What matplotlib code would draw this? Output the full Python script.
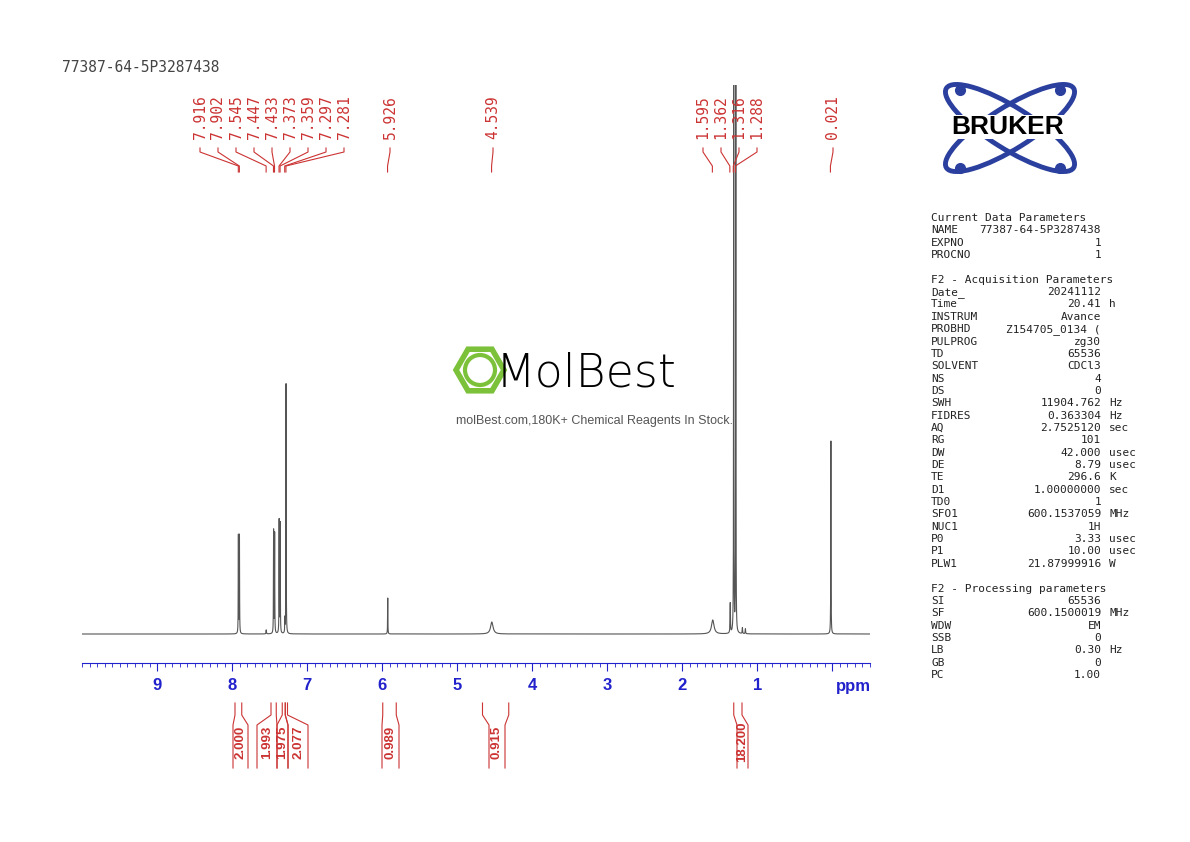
import numpy as np
import matplotlib
matplotlib.use("Agg")
import matplotlib.pyplot as plt
from matplotlib.patches import Ellipse, RegularPolygon, Circle

title = "77387-64-5P3287438"
peak_ppm = [7.916, 7.902, 7.545, 7.447, 7.433, 7.373, 7.359, 7.297, 7.281, 5.926, 4.539, 1.595, 1.362, 1.316, 1.288, 1.20, 1.16, 0.021]
peak_h = [98, 98, 4, 103, 100, 113, 110, 14, 250, 36, 12, 14, 30, 549, 549, 6, 5, 193]
peak_w = [0.002, 0.002, 0.003, 0.002, 0.002, 0.002, 0.002, 0.002, 0.002, 0.002, 0.02, 0.02, 0.003, 0.002, 0.002, 0.003, 0.003, 0.002]
label_vals = ["7.916", "7.902", "7.545", "7.447", "7.433", "7.373", "7.359", "7.297", "7.281", "5.926", "4.539", "1.595", "1.362", "1.316", "1.288", "0.021"]
label_ppm = [7.916, 7.902, 7.545, 7.447, 7.433, 7.373, 7.359, 7.297, 7.281, 5.926, 4.539, 1.595, 1.362, 1.316, 1.288, 0.021]
integ_vals = ["2.000", "1.993", "1.975", "2.077", "0.989", "0.915", "18.200"]
integ_regions = [(7.96, 7.87), (7.48, 7.41), (7.33, 7.29), (7.29, 7.26), (5.99, 5.81), (4.66, 4.31), (1.31, 1.20)]
params = [
    ("Current Data Parameters", "", ""), ("NAME", "77387-64-5P3287438", ""), ("EXPNO", "1", ""), ("PROCNO", "1", ""), None,
    ("F2 - Acquisition Parameters", "", ""), ("Date_", "20241112", ""), ("Time", "20.41", "h"), ("INSTRUM", "Avance", ""),
    ("PROBHD", "Z154705_0134 (", ""), ("PULPROG", "zg30", ""), ("TD", "65536", ""), ("SOLVENT", "CDCl3", ""),
    ("NS", "4", ""), ("DS", "0", ""), ("SWH", "11904.762", "Hz"), ("FIDRES", "0.363304", "Hz"), ("AQ", "2.7525120", "sec"),
    ("RG", "101", ""), ("DW", "42.000", "usec"), ("DE", "8.79", "usec"), ("TE", "296.6", "K"), ("D1", "1.00000000", "sec"),
    ("TD0", "1", ""), ("SFO1", "600.1537059", "MHz"), ("NUC1", "1H", ""), ("P0", "3.33", "usec"), ("P1", "10.00", "usec"),
    ("PLW1", "21.87999916", "W"), None,
    ("F2 - Processing parameters", "", ""), ("SI", "65536", ""), ("SF", "600.1500019", "MHz"), ("WDW", "EM", ""),
    ("SSB", "0", ""), ("LB", "0.30", "Hz"), ("GB", "0", ""), ("PC", "1.00", ""),
]

# layout (pixels)
label_x = [200, 218, 236, 254, 272, 290, 308, 326, 344, 390, 493, 703, 721, 739, 757, 833]
integ_bottom = [(233, 248), (257, 277), (277, 288), (288, 308), (382, 399), (489, 505), (737, 748)]

W, H = 1190, 842
fig = plt.figure(figsize=(W/100, H/100), dpi=100)
def fx(x): return x / W
def fy(y): return 1 - y / H

ax = fig.add_axes([fx(82), fy(663), (870-82)/W, (663-85)/H])
x = np.linspace(-0.5, 10.0, 200000)
x = np.sort(np.concatenate([x, np.array(peak_ppm)]))
y = np.zeros_like(x)
for p, h, w in zip(peak_ppm, peak_h, peak_w):
    y += h / (1 + ((x - p) / w) ** 2)
ax.plot(x, y, color="#555555", lw=0.8)
ax.set_xlim(10.0, -0.5)
ax.set_ylim(-29, 549)
for s in ["top", "left", "right"]:
    ax.spines[s].set_visible(False)
ax.spines["bottom"].set_color("#2222cc")
ax.set_yticks([])
ax.set_xticks(np.arange(0, 10))
ax.set_xticklabels([""] + [str(i) for i in range(1, 10)])
ax.set_xticks(np.arange(-0.5, 10.01, 0.1), minor=True)
ax.tick_params(axis="x", which="major", colors="#2222cc", direction="out", length=6, labelsize=12, pad=5)
ax.tick_params(axis="x", which="minor", colors="#2222cc", direction="out", length=3)
for t in ax.get_xticklabels():
    t.set_fontweight("bold"); t.set_family("Liberation Sans")
fig.text(fx(853), fy(686), "ppm", color="#2222cc", fontsize=12, fontweight="bold", family="Liberation Sans", ha="center", va="center")

def ppm2px(p): return 157 + (9 - p) * 75

red = "#cc3333"
for lab, lx, p in zip(label_vals, label_x, label_ppm):
    tx = ppm2px(p)
    fig.text(fx(lx), fy(95), lab, rotation=90, color=red, fontsize=10.5, family="DejaVu Sans Mono", ha="center", va="top")
    fig.add_artist(plt.Line2D([fx(lx), fx(lx), fx(tx), fx(tx)], [fy(148), fy(152), fy(166), fy(172)], color=red, lw=0.8))

for val, (a, b), (ba, bb) in zip(integ_vals, integ_regions, integ_bottom):
    xa, xb = ppm2px(a), ppm2px(b)
    for e, i in [(xa, ba), (xb, bb)]:
        fig.add_artist(plt.Line2D([fx(e), fx(e), fx(i), fx(i)], [fy(703), fy(715), fy(725), fy(768)], color=red, lw=0.8))
    fig.text(fx((ba + bb) / 2), fy(742), val, rotation=90, color=red, fontsize=9.5, fontweight="bold", family="Liberation Sans", ha="center", va="center")

fig.text(fx(62), fy(68), title, fontsize=10.5, family="DejaVu Sans Mono", color="#444444", va="center")

y0 = 218
for line in params:
    if line is not None:
        n, v, u = line
        fig.text(fx(931), fy(y0), n, fontsize=8, family="DejaVu Sans Mono", color="#222222", va="center")
        if v:
            fig.text(fx(1101), fy(y0), v, fontsize=8, family="DejaVu Sans Mono", color="#222222", va="center", ha="right")
        if u:
            fig.text(fx(1109), fy(y0), u, fontsize=8, family="DejaVu Sans Mono", color="#222222", va="center")
    y0 += 12.35

# Bruker logo
lax = fig.add_axes([fx(920), fy(180), 180/W, 100/H])
lax.set_xlim(0, 180); lax.set_ylim(100, 0); lax.axis("off")
for ang in [32, -32]:
    lax.add_patch(Ellipse((90, 48), 150, 42, angle=ang, fill=False, ec="#2a3f9e", lw=3.5))
for px_, py_ in [(40, 10), (140, 10), (40, 88), (140, 88)]:
    lax.plot(px_, py_, "o", color="#2a3f9e", ms=7)
lax.text(88, 47, "BRUKER", fontsize=19, fontweight="black", family="Liberation Sans", ha="center", va="center", color="black",
         bbox=dict(fc="white", ec="none", pad=0.2))

# watermark
wax = fig.add_axes([fx(450), fy(400), 60/W, 60/H])
wax.set_xlim(-1, 1); wax.set_ylim(-1, 1); wax.axis("off"); wax.set_aspect("equal")
wax.add_patch(RegularPolygon((0, 0), 6, radius=0.8, orientation=np.pi/6, fill=False, ec="#7cc13a", lw=4))
wax.add_patch(Circle((0, 0), 0.5, fill=False, ec="#7cc13a", lw=3))
fig.text(fx(586), fy(374), "MolBest", fontsize=33, color="black", ha="center", va="center", family="DejaVu Sans", fontweight="light")
fig.text(fx(594), fy(421), "molBest.com,180K+ Chemical Reagents In Stock.", fontsize=9, color="#555555", ha="center", va="center", family="Liberation Sans")

fig.savefig("out.png", dpi=100)
